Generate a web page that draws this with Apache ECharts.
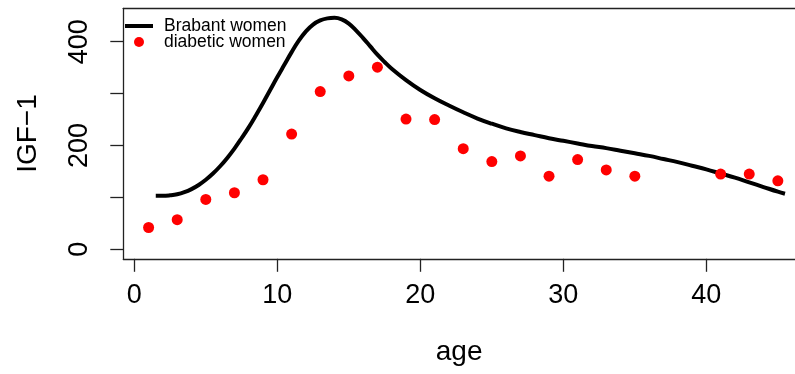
<!DOCTYPE html>
<html>
<head>
<meta charset="utf-8">
<script src="https://cdn.jsdelivr.net/npm/echarts@6/dist/echarts.min.js"></script>
<style>
html,body{margin:0;padding:0;background:#fff;}
#chart{width:795px;height:374px;}
</style>
</head>
<body>
<div id="chart"></div>
<script>
// Reference curve: Brabant women
const curveAge = [1.5,2,2.5,3,3.5,4,4.5,5,5.5,6,6.5,7,7.5,8,8.5,9,9.5,10,10.5,11,11.5,12,12.5,13,13.5,14,14.5,15,15.5,16,16.5,17,17.5,18,19,20,21,22,23,24,25,26,27,28,29,30,31,32,33,34,35,36,37,38,39,40,41,42,43,44,45,45.5];
const curveIGF = [103,103,104,106,110,116,124,134,146,160,176,194,214,235,258,282,307,332,356,380,402,420,433,441,445,446,443,435,422,407,391,375,361,348,326,307,291,277,264,252,242,233,226,220,214,209,204,199,195,190,185,180,174,168,161,154,146,138,129,120,111,107];
// Diabetic women observations
const diabeticAge = [1,3,5,7,9,11,13,15,17,19,21,23,25,27,29,31,33,35,41,43,45];
const diabeticIGF = [42,57,96,109,134,222,304,334,351,251,250,194,169,180,141,173,153,141,145,145,132];
// Axis ticks / labels
const xTicks = [0,10,20,30,40];
const yTicks = [0,100,200,300,400];
const yLabels = [0,200,400];
const seriesNames = ['Brabant women','diabetic women'];

const FONT = 'Liberation Sans, Arial, Helvetica, sans-serif';
const chart = echarts.init(document.getElementById('chart'), null, {renderer:'canvas'});
const curveData = curveAge.map((a,i)=>[a,curveIGF[i]]);
const dotData = diabeticAge.map((a,i)=>[a,diabeticIGF[i]]);
const AX = '#222';

chart.setOption({
  animation:false,
  backgroundColor:'#ffffff',
  textStyle:{fontFamily:FONT},
  grid:{left:123.3, top:8.3, right:0, height:250.5, show:false},
  legend:{
    left:120, top:12, orient:'vertical', itemWidth:28, itemHeight:10, itemGap:-2,
    symbolKeepAspect:true,
    textStyle:{fontFamily:FONT, fontSize:17.5, color:'#000', lineHeight:15, padding:[0,0,0,6]},
    data:[
      {name:seriesNames[0], icon:'path://M0,0h28v4h-28z', itemStyle:{color:'#000'}},
      {name:seriesNames[1], icon:'circle', itemStyle:{color:'#ff0000'}}
    ]
  },
  xAxis:[{
    type:'value', min:-0.77, max:46.2, position:'bottom',
    name:'age', nameLocation:'middle', nameGap:79,
    nameTextStyle:{fontFamily:FONT, fontSize:28, color:'#000'},
    axisLine:{show:true, onZero:false, lineStyle:{color:AX, width:1.3}},
    axisTick:{show:true, length:13, lineStyle:{color:AX, width:1.3}, customValues:xTicks},
    axisLabel:{show:true, fontFamily:FONT, fontSize:27, color:'#000', margin:23, customValues:xTicks},
    splitLine:{show:false}
  },{
    type:'value', min:-0.77, max:46.2, position:'top',
    axisLine:{show:true, onZero:false, lineStyle:{color:AX, width:1.3}},
    axisTick:{show:false}, axisLabel:{show:false}, splitLine:{show:false}
  }],
  yAxis:{
    type:'value', min:-18.3, max:464.4,
    name:'IGF\u22121', nameLocation:'middle', nameGap:81, nameRotate:90,
    nameTextStyle:{fontFamily:FONT, fontSize:28, color:'#000'},
    axisLine:{show:true, onZero:false, lineStyle:{color:AX, width:1.3}},
    axisTick:{show:true, length:13, lineStyle:{color:AX, width:1.3}, customValues:yTicks},
    axisLabel:{show:true, rotate:90, fontFamily:FONT, fontSize:27, color:'#000', margin:30, customValues:yLabels},
    splitLine:{show:false}
  },
  series:[
    {
      name:seriesNames[0], type:'line', data:curveData, smooth:0.4, showSymbol:false, symbol:'none',
      lineStyle:{color:'#000', width:4}, itemStyle:{color:'#000'}, clip:true, z:2
    },
    {
      name:seriesNames[1], type:'scatter', data:dotData, symbol:'circle', symbolSize:11,
      itemStyle:{color:'#ff0000', opacity:1}, z:3
    }
  ]
});
</script>
</body>
</html>
